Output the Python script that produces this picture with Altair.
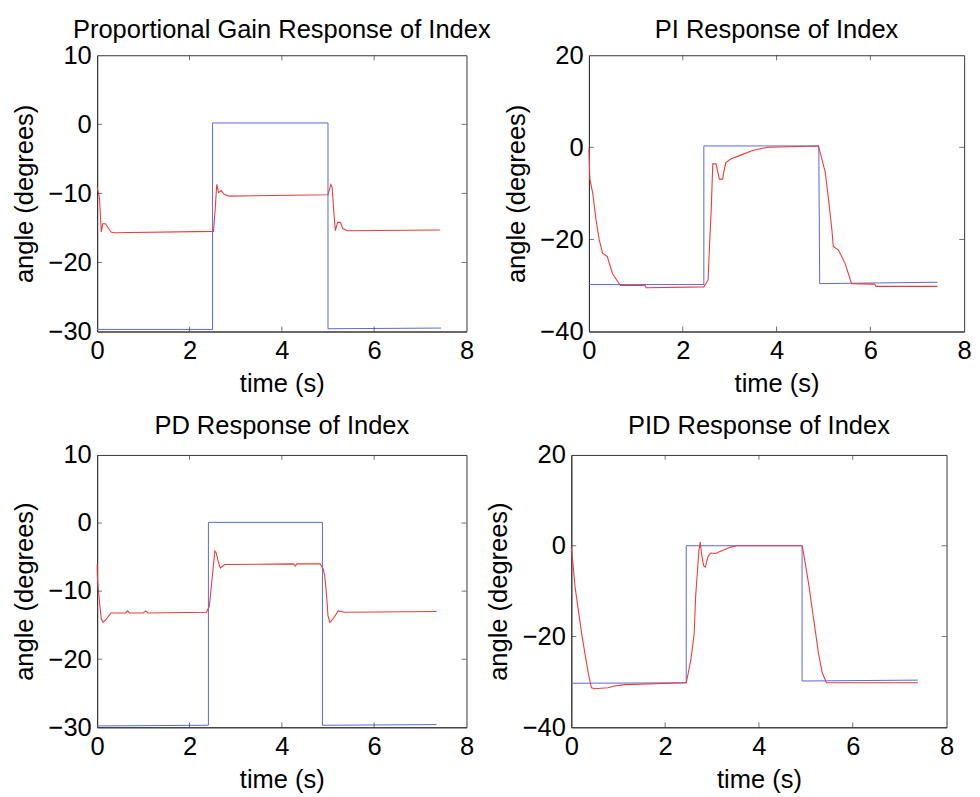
import altair as alt
import pandas as pd

# ---------------- data ----------------
titles = ["Proportional Gain Response of Index", "PI Response of Index",
          "PD Response of Index", "PID Response of Index"]

x_ticks = [0, 2, 4, 6, 8]
y_ticks_a = [-30, -20, -10, 0, 10]
y_ticks_b = [-40, -20, 0, 20]

# Proportional
p_blue_t = [0, 2.5, 2.5, 5.0, 5.0, 7.45]
p_blue_y = [-29.7, -29.7, 0.2, 0.2, -29.6, -29.5]
p_red_t = [0, 0.05, 0.09, 0.12, 0.18, 0.23, 0.30, 0.37, 2.52, 2.56, 2.59, 2.63, 2.69, 2.74,
           2.85, 5.0, 5.06, 5.09, 5.13, 5.16, 5.21, 5.27, 5.32, 5.42, 7.43]
p_red_y = [-9.1, -10.6, -15.6, -14.4, -14.4, -14.9, -15.6, -15.7, -15.5, -12.0, -8.7, -9.9, -9.6, -10.1,
           -10.4, -10.2, -8.7, -9.1, -13.0, -15.4, -14.2, -14.2, -15.1, -15.4, -15.3]

# PI
pi_blue_t = [0, 2.45, 2.45, 4.9, 4.92, 7.43]
pi_blue_y = [-29.8, -29.8, 0.3, 0.3, -29.6, -29.3]
pi_red_t = [0, 0.02, 0.08, 0.15, 0.22, 0.29, 0.39, 0.5, 0.67, 1.2, 1.22, 2.45, 2.54, 2.57, 2.61,
            2.64, 2.71, 2.74, 2.78, 2.85, 2.88, 2.92, 3.03, 3.21, 3.49, 3.70, 3.84, 4.89, 4.93, 5.04,
            5.10, 5.18, 5.21, 5.32, 5.46, 5.60, 6.09, 6.12, 7.43]
pi_red_y = [-0.3, -6.9, -9.9, -15.7, -20.1, -23.0, -23.7, -27.4, -30.0, -30.0, -30.5, -30.3, -28.8,
            -21.5, -12.8, -3.6, -3.6, -5.0, -6.9, -6.9, -5.0, -3.3, -2.5, -1.8, -0.7, -0.2, 0.0, 0.3,
            -1.1, -5.5, -10.6, -17.9, -21.5, -22.3, -25.2, -29.6, -29.7, -30.2, -30.2]

# PD
pd_blue_t = [0, 2.41, 2.41, 4.88, 4.88, 7.35]
pd_blue_y = [-29.8, -29.7, 0.1, 0.1, -29.7, -29.6]
pd_red_t = [0, 0.004, 0.03, 0.09, 0.13, 0.20, 0.30, 0.40, 0.62, 0.66, 0.70, 1.0, 1.05, 1.1, 2.37,
            2.43, 2.48, 2.51, 2.55, 2.58, 2.62, 2.67, 2.76, 4.25, 4.29, 4.33, 4.83, 4.90, 4.93, 4.97,
            5.00, 5.04, 5.11, 5.22, 5.35, 7.35]
pd_red_y = [-6.1, -7.8, -10.2, -14.1, -14.6, -14.1, -13.2, -13.2, -13.2, -12.9, -13.2, -13.2, -12.9,
            -13.2, -13.1, -12.2, -8.8, -6.8, -4.1, -4.4, -5.6, -6.6, -6.1, -6.0, -6.3, -6.0, -6.0,
            -6.8, -7.8, -10.7, -13.6, -14.6, -14.1, -12.9, -13.1, -13.0]

# PID
pid_blue_t = [0, 2.45, 2.45, 4.92, 4.92, 7.39]
pid_blue_y = [-30.3, -30.2, 0.0, 0.0, -29.8, -29.6]
pid_red_t = [0, 0.03, 0.08, 0.15, 0.22, 0.29, 0.36, 0.43, 0.50, 0.78, 0.92, 1.14, 2.45, 2.48, 2.55,
             2.62, 2.65, 2.69, 2.72, 2.75, 2.77, 2.82, 2.86, 2.91, 2.97, 3.07, 3.25, 3.39, 3.53, 4.92,
             4.94, 4.99, 5.06, 5.13, 5.20, 5.27, 5.35, 5.44, 7.39]
pid_red_y = [-0.4, -3.3, -9.1, -14.2, -19.3, -23.7, -28.0, -31.3, -31.5, -31.3, -30.9, -30.6, -30.2,
             -28.7, -25.1, -19.3, -11.3, -5.5, -1.1, 0.8, -1.3, -4.4, -4.7, -2.5, -1.6, -1.7, -0.95,
             -0.3, 0.0, 0.0, -0.9, -4.0, -8.4, -13.5, -18.6, -23.7, -28.0, -30.2, -30.2]

BLUE = "#5565e0"
RED = "#ee3b35"
FRAME = "#333333"
FONT = "Liberation Sans"
FS = 26


def panel(title, yticks, bt, by, rt, ry, w, h, toff):
    ymin, ymax = yticks[0], yticks[-1]
    xs = alt.Scale(domain=[0, 8], nice=False)
    ys = alt.Scale(domain=[ymin, ymax], nice=False)
    xa = alt.Axis(values=x_ticks, title="time (s)", format="d")
    ya = alt.Axis(values=yticks, title="angle (degrees)", format="d")
    blue_df = pd.DataFrame({"t": bt, "y": by, "i": range(len(bt))})
    red_df = pd.DataFrame({"t": rt, "y": ry, "i": range(len(rt))})

    X = alt.X("t:Q", scale=xs, axis=xa)
    Y = alt.Y("y:Q", scale=ys, axis=ya)

    blue = alt.Chart(blue_df).mark_line(color=BLUE, strokeWidth=1).encode(x=X, y=Y, order="i:Q")
    red = alt.Chart(red_df).mark_line(color=RED, strokeWidth=1.1).encode(x=X, y=Y, order="i:Q")

    xt = pd.DataFrame({"t": x_ticks[1:-1]})
    yt = pd.DataFrame({"y": yticks[1:-1]})
    tick = dict(size=5, thickness=1, color=FRAME)
    tb = alt.Chart(xt).mark_tick(orient="vertical", **tick).encode(
        x=X, y=alt.YDatum(ymin, scale=ys, axis=ya), yOffset=alt.value(-2.5))
    tt = alt.Chart(xt).mark_tick(orient="vertical", **tick).encode(
        x=X, y=alt.YDatum(ymax, scale=ys, axis=ya), yOffset=alt.value(2.5))
    tl = alt.Chart(yt).mark_tick(orient="horizontal", **tick).encode(
        y=Y, x=alt.XDatum(0, scale=xs, axis=xa), xOffset=alt.value(2.5))
    tr = alt.Chart(yt).mark_tick(orient="horizontal", **tick).encode(
        y=Y, x=alt.XDatum(8, scale=xs, axis=xa), xOffset=alt.value(-2.5))

    return alt.layer(blue, red, tb, tt, tl, tr).properties(
        width=w, height=h, title=alt.TitleParams(title, offset=toff))


c1 = panel(titles[0], y_ticks_a, p_blue_t, p_blue_y, p_red_t, p_red_y, 377, 282, 0)
c2 = panel(titles[1], y_ticks_b, pi_blue_t, pi_blue_y, pi_red_t, pi_red_y, 383, 282, 0)
c3 = panel(titles[2], y_ticks_a, pd_blue_t, pd_blue_y, pd_red_t, pd_red_y, 377, 278, 3)
c4 = panel(titles[3], y_ticks_b, pid_blue_t, pid_blue_y, pid_red_t, pid_red_y, 383, 278, 3)

chart = alt.vconcat(
    alt.hconcat(c1, c2, spacing=11),
    alt.hconcat(c3, c4, spacing=11),
    spacing=16,
).configure(padding={"left": 3, "top": 0, "right": 0, "bottom": 0}, background="white").configure_axis(
    labelFont=FONT, labelFontSize=FS, labelColor="black", labelFlush=False, labelOverlap=False,
    titleFont=FONT, titleFontSize=FS, titleFontWeight="normal", titleColor="black",
    ticks=False, grid=False, domainColor=FRAME, labelPadding=6,
).configure_axisX(titlePadding=7, labelPadding=7).configure_axisY(titlePadding=11).configure_title(
    font=FONT, fontSize=FS, fontWeight="normal", color="black"
).configure_view(stroke=FRAME)

chart.save("out.html", embed_options={"renderer": "svg", "actions": False})
